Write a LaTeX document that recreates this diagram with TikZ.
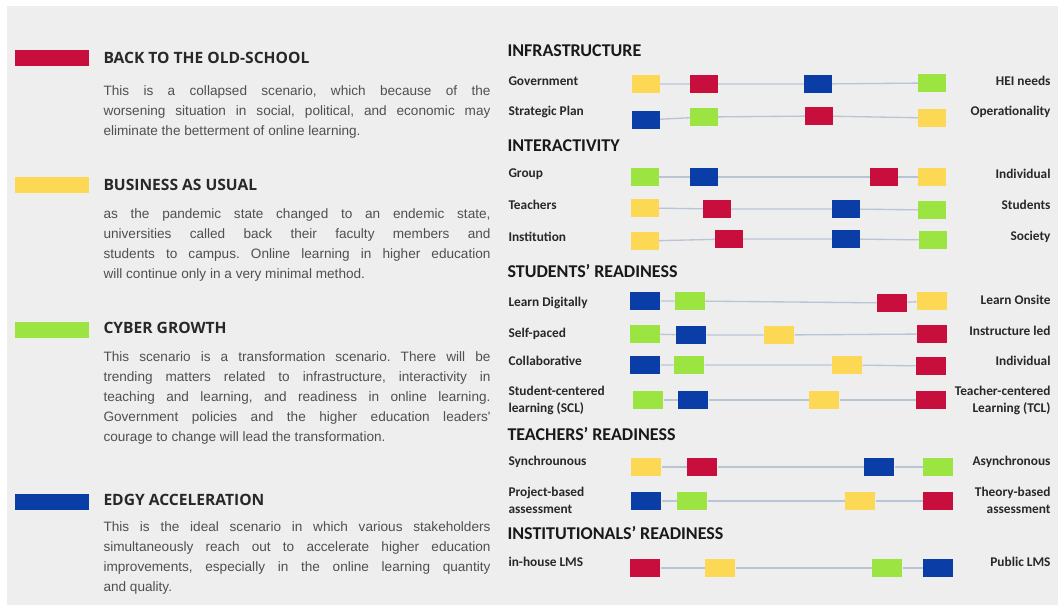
\documentclass[tikz,border=0pt]{standalone}
\usepackage{fontspec}
\setmainfont{Open Sans}
\newfontfamily\bodyfont{Liberation Sans}
\newfontfamily\calibri{Carlito}
\frenchspacing

\tikzset{every picture/.style={line width=0.75pt}}
\tikzset{
  box/.style={inner sep=0pt, minimum width=20.5pt, minimum height=13.5pt},
  wbox/.style={inner sep=0pt, minimum width=22.5pt, minimum height=13pt},
  bar/.style={inner sep=0pt, minimum width=55.5pt, minimum height=12pt},
  oldsch/.style={fill={rgb, 255:red, 200; green, 14; blue, 60 }},
  usual/.style={fill={rgb, 255:red, 253; green, 216; blue, 84 }},
  cyber/.style={fill={rgb, 255:red, 156; green, 228; blue, 66 }},
  edgy/.style={fill={rgb, 255:red, 10; green, 62; blue, 166 }},
  track/.style={draw={rgb, 255:red, 186; green, 197; blue, 212 }, line width=1pt},
  head/.style={anchor=west, inner sep=0pt, font=\bfseries\fontsize{11.7}{13}\selectfont, text={rgb, 255:red, 40; green, 40; blue, 40 }},
  body/.style={anchor=north west, inner sep=0pt, text width=290.25pt, align=justify, font=\bodyfont\fontsize{10.2}{15}\selectfont, text={rgb, 255:red, 80; green, 80; blue, 80 }},
  sect/.style={anchor=west, inner sep=0pt, font=\calibri\bfseries\fontsize{13.5}{16}\selectfont, text={rgb, 255:red, 25; green, 25; blue, 25 }},
  lft/.style={anchor=west, inner sep=0pt, align=left, font=\calibri\bfseries\fontsize{10}{12.75}\selectfont, text={rgb, 255:red, 40; green, 40; blue, 40 }},
  rgt/.style={anchor=east, inner sep=0pt, align=right, font=\calibri\bfseries\fontsize{10}{12.75}\selectfont, text={rgb, 255:red, 40; green, 40; blue, 40 }}
}

\begin{document}
\begin{tikzpicture}[x=0.75pt,y=0.75pt,yscale=-1,xscale=1]
\useasboundingbox (0,0) rectangle (1058,605);
%Shape: Rectangle [background]
\fill [white] (0,0) rectangle (1058,605);
\fill [fill={rgb, 255:red, 238; green, 238; blue, 238 }] (7,6) rectangle (1058,605);

%% Scenarios (left column)
%Shape: Rectangle
\draw (52,58) node [bar, oldsch] (legOld) {};
% Text Node
\draw (103,58) node [head] (ttlOld) {BACK TO THE OLD-SCHOOL};
% Text Node
\draw (103,85) node [body] (txtOld) {This is a collapsed scenario, which because of the\linebreak worsening situation in social, political, and economic may\linebreak eliminate the betterment of online learning.};

%Shape: Rectangle
\draw (52,185) node [bar, usual] (legUsual) {};
% Text Node
\draw (103,185) node [head] (ttlUsual) {BUSINESS AS USUAL};
% Text Node
\draw (103,208) node [body] (txtUsual) {as the pandemic state changed to an endemic state,\linebreak universities called back their faculty members and\linebreak students to campus. Online learning in higher education\linebreak will continue only in a very minimal method.};

%Shape: Rectangle
\draw (52,330) node [bar, cyber] (legCyber) {};
% Text Node
\draw (103,328) node [head] (ttlCyber) {CYBER GROWTH};
% Text Node
\draw (103,351) node [body] (txtCyber) {This scenario is a transformation scenario. There will be\linebreak trending matters related to infrastructure, interactivity in\linebreak teaching and learning, and readiness in online learning.\linebreak Government policies and the higher education leaders'\linebreak courage to change will lead the transformation.};

%Shape: Rectangle
\draw (52,502) node [bar, edgy] (legEdgy) {};
% Text Node
\draw (103,500) node [head] (ttlEdgy) {EDGY ACCELERATION};
% Text Node
\draw (103,521) node [body] (txtEdgy) {This is the ideal scenario in which various stakeholders\linebreak simultaneously reach out to accelerate higher education\linebreak improvements, especially in the online learning quantity\linebreak and quality.};

%% Infrastructure
% Text Node
\draw (507,51) node [sect] (infra) {INFRASTRUCTURE};
\draw (508,81) node [lft] (govL) {Government};
\draw (1051,81) node [rgt] (govR) {HEI needs};
\draw (646,84) node [box, usual] (gov1) {};
\draw (704,84) node [box, oldsch] (gov2) {};
\draw (818,84) node [box, edgy] (gov3) {};
\draw (932,83) node [box, cyber] (gov4) {};
\draw [track] (gov1) -- (gov2) -- (gov3) -- (gov4);

\draw (508,112) node [lft] (planL) {Strategic Plan};
\draw (1051,112) node [rgt] (planR) {Operationality};
\draw (646,120) node [box, edgy] (plan1) {};
\draw (704,117) node [box, cyber] (plan2) {};
\draw (819,116) node [box, oldsch] (plan3) {};
\draw (932,118) node [box, usual] (plan4) {};
\draw [track] (plan1) -- (plan2) -- (plan3) -- (plan4);

%% Interactivity
% Text Node
\draw (507,146) node [sect] (inter) {INTERACTIVITY};
\draw (508,174) node [lft] (grpL) {Group};
\draw (1051,174) node [rgt] (grpR) {Individual};
\draw (645,177) node [box, cyber] (grp1) {};
\draw (704,177) node [box, edgy] (grp2) {};
\draw (884,177) node [box, oldsch] (grp3) {};
\draw (932,177) node [box, usual] (grp4) {};
\draw [track] (grp1) -- (grp2) -- (grp3) -- (grp4);

\draw (508,205) node [lft] (tchL) {Teachers};
\draw (1051,205) node [rgt] (tchR) {Students};
\draw (645,208) node [box, usual] (tch1) {};
\draw (717,209) node [box, oldsch] (tch2) {};
\draw (846,209) node [box, edgy] (tch3) {};
\draw (932,210) node [box, cyber] (tch4) {};
\draw [track] (tch1) -- (tch2) -- (tch3) -- (tch4);

\draw (508,237) node [lft] (instL) {Institution};
\draw (1051,237) node [rgt] (instR) {Society};
\draw (645,241) node [box, usual] (inst1) {};
\draw (729,239) node [box, oldsch] (inst2) {};
\draw (846,239) node [box, edgy] (inst3) {};
\draw (933,240) node [box, cyber] (inst4) {};
\draw [track] (inst1) -- (inst2) -- (inst3) -- (inst4);

%% Students' readiness
% Text Node
\draw (507,271) node [sect] (stud) {STUDENTS’ READINESS};
\draw (508,303) node [lft] (digL) {Learn Digitally};
\draw (1051,300) node [rgt] (digR) {Learn Onsite};
\draw (645,301) node [wbox, edgy] (dig1) {};
\draw (690,301) node [wbox, cyber] (dig2) {};
\draw (892,303) node [wbox, oldsch] (dig3) {};
\draw (932,301) node [wbox, usual] (dig4) {};
\draw [track] (dig1) -- (dig2) -- (dig3) -- (dig4);

\draw (508,334) node [lft] (paceL) {Self-paced};
\draw (1051,331) node [rgt] (paceR) {Instructure led};
\draw (645,334) node [wbox, cyber] (pace1) {};
\draw (691,335) node [wbox, edgy] (pace2) {};
\draw (779,335) node [wbox, usual] (pace3) {};
\draw (932,334) node [wbox, oldsch] (pace4) {};
\draw [track] (pace1) -- (pace2) -- (pace3) -- (pace4);

\draw (508,361) node [lft] (colL) {Collaborative};
\draw (1051,361) node [rgt] (colR) {Individual};
\draw (645,365) node [wbox, edgy] (col1) {};
\draw (689,365) node [wbox, cyber] (col2) {};
\draw (847,365) node [wbox, usual] (col3) {};
\draw (931,366) node [wbox, oldsch] (col4) {};
\draw [track] (col1) -- (col2) -- (col3) -- (col4);

\draw (508,400) node [lft] (sclL) {Student-centered\\learning (SCL)};
\draw (1051,400) node [rgt] (sclR) {Teacher-centered\\Learning (TCL)};
\draw (648,400) node [wbox, cyber] (scl1) {};
\draw (693,400) node [wbox, edgy] (scl2) {};
\draw (824,400) node [wbox, usual] (scl3) {};
\draw (931,400) node [wbox, oldsch] (scl4) {};
\draw [track] (scl1) -- (scl2) -- (scl3) -- (scl4);

%% Teachers' readiness
% Text Node
\draw (507,434) node [sect] (teach) {TEACHERS’ READINESS};
\draw (508,462) node [lft] (syncL) {Synchrounous};
\draw (1051,462) node [rgt] (syncR) {Asynchronous};
\draw (646,467) node [wbox, usual] (sync1) {};
\draw (702,467) node [wbox, oldsch] (sync2) {};
\draw (879,467) node [wbox, edgy] (sync3) {};
\draw (938,467) node [wbox, cyber] (sync4) {};
\draw [track] (sync1) -- (sync2) -- (sync3) -- (sync4);

\draw (508,500) node [lft] (projL) {Project-based\\assessment};
\draw (1051,500) node [rgt] (projR) {Theory-based\\assessment};
\draw (646,501) node [wbox, edgy] (proj1) {};
\draw (692,501) node [wbox, cyber] (proj2) {};
\draw (860,501) node [wbox, usual] (proj3) {};
\draw (938,501) node [wbox, oldsch] (proj4) {};
\draw [track] (proj1) -- (proj2) -- (proj3) -- (proj4);

%% Institutionals' readiness
% Text Node
\draw (507,533) node [sect] (insti) {INSTITUTIONALS’ READINESS};
\draw (508,562) node [lft] (lmsL) {in-house LMS};
\draw (1051,562) node [rgt] (lmsR) {Public LMS};
\draw (645,568) node [wbox, oldsch] (lms1) {};
\draw (720,568) node [wbox, usual] (lms2) {};
\draw (887,568) node [wbox, cyber] (lms3) {};
\draw (938,568) node [wbox, edgy] (lms4) {};
\draw [track] (lms1) -- (lms2) -- (lms3) -- (lms4);

\end{tikzpicture}
\end{document}
